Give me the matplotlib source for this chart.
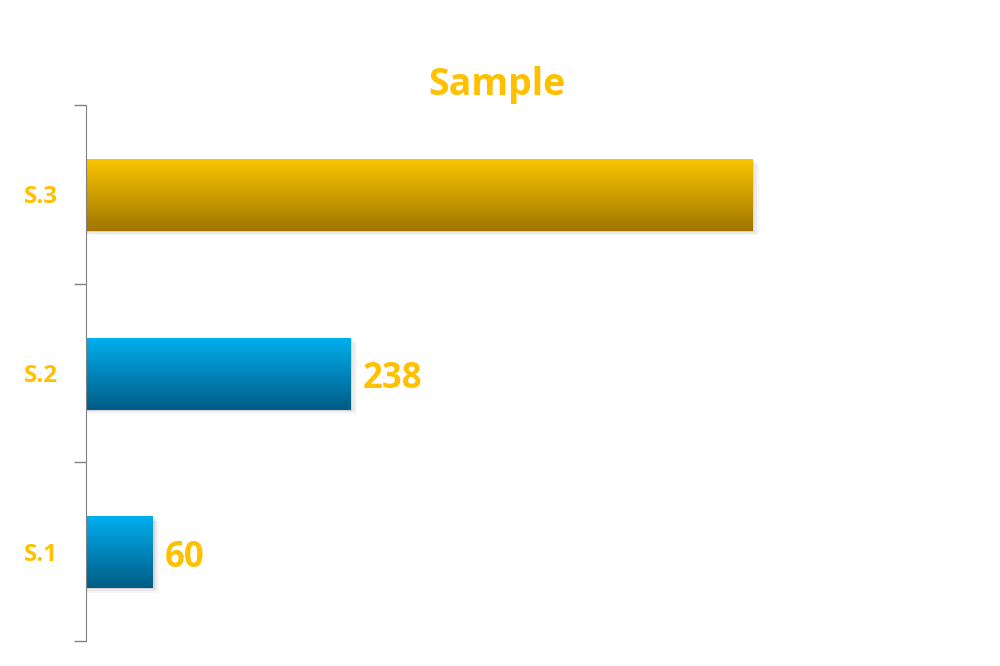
import matplotlib.pyplot as plt
import numpy as np
from matplotlib.colors import LinearSegmentedColormap
from matplotlib.patches import Rectangle

categories = ['S.1', 'S.2', 'S.3']
values = [60, 238, 600]
top_colors = ['#00AEEF', '#00AEEF', '#F9C400']
bottom_colors = ['#005C85', '#005C85', '#A07600']
label_colors = ['#FFC000', '#FFC000', '#FFFFFF']

gold = '#FFC000'
plt.rcParams['font.family'] = ['Open Sans', 'DejaVu Sans']

fig = plt.figure(figsize=(10, 6.66), dpi=100)
ax = fig.add_axes([0.086, 0.0375, 0.866, 0.8048])

ypos = np.arange(len(categories))
h = 0.4
grad = np.linspace(0, 1, 100).reshape(-1, 1)
for y, v, c1, c2, lc in zip(ypos, values, top_colors, bottom_colors, label_colors):
    # soft shadow
    for k, a in enumerate([0.09, 0.05, 0.03]):
        off = 0.01 * (k + 1)
        ax.add_patch(Rectangle((0, y - h / 2 - off), v + 2 * (k + 1), h,
                               facecolor='black', alpha=a, edgecolor='none', zorder=1))
    cmap = LinearSegmentedColormap.from_list('g', [c1, c2])
    ax.imshow(grad, cmap=cmap, aspect='auto', extent=[0, v, y - h / 2 - 0.005, y + h / 2 - 0.005],
              origin='upper', zorder=2, interpolation='bicubic')
    ax.text(v + 11, y - 0.035, str(v), color=lc, fontsize=25, fontweight='bold',
            va='center', ha='left', zorder=3)

ax.set_xlim(0, 780)
ax.set_ylim(-0.5, len(categories) - 0.5)
ax.set_yticks(ypos)
ax.set_yticklabels(categories, color=gold, fontsize=17.5, fontweight='bold')
ax.set_yticks(np.arange(-0.5, len(categories), 1), minor=True)
ax.tick_params(axis='y', which='major', length=0, pad=20)
ax.tick_params(axis='y', which='minor', length=9, color='#808080', width=1)
ax.set_xticks([])
for s in ['top', 'right', 'bottom']:
    ax.spines[s].set_visible(False)
ax.spines['left'].set_color('#808080')

fig.text(0.497, 0.872, 'Sample', color=gold, fontsize=27, fontweight='bold',
         ha='center', va='center')

fig.savefig('out.png', dpi=100)
